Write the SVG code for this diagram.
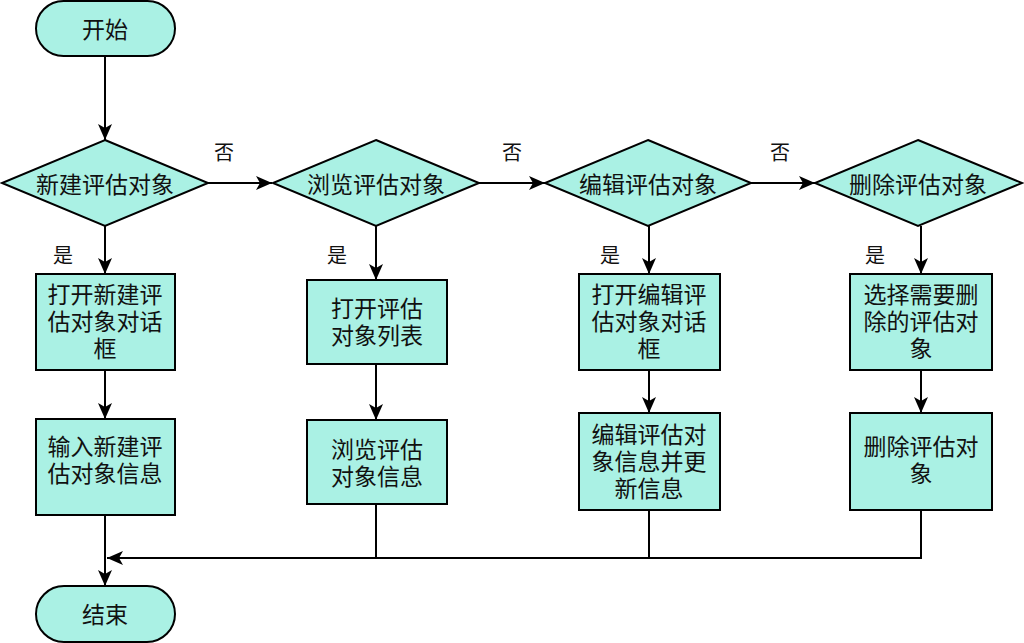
<svg xmlns="http://www.w3.org/2000/svg" width="1024" height="643" viewBox="0 0 1024 643">
<style>
.n{fill:#aaf1e4;stroke:#000;stroke-width:2}
.t{font-family:"Noto Sans CJK SC","Liberation Sans",sans-serif;font-size:23px;fill:#111;text-anchor:middle;dominant-baseline:central}
.l{font-family:"Noto Sans CJK SC","Liberation Sans",sans-serif;font-size:20px;fill:#111;text-anchor:middle;dominant-baseline:central}
.c{fill:none;stroke:#000;stroke-width:2}
</style>
<defs>
<marker id="a" markerUnits="userSpaceOnUse" viewBox="0 0 16 14" refX="16" refY="7" markerWidth="16" markerHeight="14" orient="auto">
<path d="M0,0 L16,7 L0,14 L4,7 z" fill="#000"/>
</marker>
</defs>
<rect width="1024" height="643" fill="#fff"/>
<g id="connectors">
<line class="c" x1="105" y1="56" x2="105" y2="140" marker-end="url(#a)"/>
<line class="c" x1="105" y1="226" x2="105" y2="274" marker-end="url(#a)"/>
<line class="c" x1="208" y1="183" x2="272" y2="183" marker-end="url(#a)"/>
<line class="c" x1="479" y1="183" x2="545" y2="183" marker-end="url(#a)"/>
<line class="c" x1="751" y1="183" x2="815" y2="183" marker-end="url(#a)"/>
<line class="c" x1="376" y1="226" x2="376" y2="280" marker-end="url(#a)"/>
<line class="c" x1="649" y1="226" x2="649" y2="274" marker-end="url(#a)"/>
<line class="c" x1="921" y1="226" x2="921" y2="274" marker-end="url(#a)"/>
<line class="c" x1="105" y1="370" x2="105" y2="419" marker-end="url(#a)"/>
<line class="c" x1="376" y1="364" x2="376" y2="420" marker-end="url(#a)"/>
<line class="c" x1="649" y1="370" x2="649" y2="413" marker-end="url(#a)"/>
<line class="c" x1="921" y1="370" x2="921" y2="413" marker-end="url(#a)"/>
<line class="c" x1="105" y1="515" x2="105" y2="586" marker-end="url(#a)"/>
<polyline class="c" points="921,510 921,558 107,558" marker-end="url(#a)"/>
<line class="c" x1="376" y1="504" x2="376" y2="558"/>
<line class="c" x1="649" y1="510" x2="649" y2="558"/>
<text class="l" x="224" y="151">否</text>
<text class="l" x="512" y="151">否</text>
<text class="l" x="780" y="151">否</text>
<text class="l" x="63" y="254">是</text>
<text class="l" x="337" y="254">是</text>
<text class="l" x="610" y="254">是</text>
<text class="l" x="875" y="254">是</text>
</g>
<g id="start"><rect class="n" x="36" y="1" width="139" height="55" rx="27.5"/><text class="t" x="105" y="28">开始</text></g>
<g id="d1"><polygon class="n" points="105,140 208,183 105,226 2,183"/><text class="t" x="105" y="183">新建评估对象</text></g>
<g id="d2"><polygon class="n" points="376,140 479,183 376,226 273,183"/><text class="t" x="376" y="183">浏览评估对象</text></g>
<g id="d3"><polygon class="n" points="648,140 751,183 648,226 545,183"/><text class="t" x="648" y="183">编辑评估对象</text></g>
<g id="d4"><polygon class="n" points="918,140 1022,183 918,226 815,183"/><text class="t" x="918" y="183">删除评估对象</text></g>
<g id="b1"><rect class="n" x="36" y="274" width="139" height="96"/><text class="t" x="105" y="293">打开新建评<tspan x="105" dy="27">估对象对话</tspan><tspan x="105" dy="27">框</tspan></text></g>
<g id="b2"><rect class="n" x="36" y="419" width="139" height="96"/><text class="t" x="105" y="445">输入新建评<tspan x="105" dy="27">估对象信息</tspan></text></g>
<g id="b3"><rect class="n" x="307" y="280" width="140" height="84"/><text class="t" x="377" y="307">打开评估<tspan x="377" dy="27">对象列表</tspan></text></g>
<g id="b4"><rect class="n" x="307" y="420" width="140" height="84"/><text class="t" x="377" y="448">浏览评估<tspan x="377" dy="27">对象信息</tspan></text></g>
<g id="b5"><rect class="n" x="579" y="274" width="141" height="96"/><text class="t" x="649" y="293">打开编辑评<tspan x="649" dy="27">估对象对话</tspan><tspan x="649" dy="27">框</tspan></text></g>
<g id="b6"><rect class="n" x="579" y="413" width="141" height="97"/><text class="t" x="649" y="433">编辑评估对<tspan x="649" dy="27">象信息并更</tspan><tspan x="649" dy="27">新信息</tspan></text></g>
<g id="b7"><rect class="n" x="850" y="274" width="142" height="96"/><text class="t" x="921" y="293">选择需要删<tspan x="921" dy="27">除的评估对</tspan><tspan x="921" dy="27">象</tspan></text></g>
<g id="b8"><rect class="n" x="850" y="413" width="142" height="97"/><text class="t" x="921" y="445">删除评估对<tspan x="921" dy="27">象</tspan></text></g>
<g id="end"><rect class="n" x="36" y="586" width="139" height="56" rx="28"/><text class="t" x="105" y="613">结束</text></g>
</svg>
